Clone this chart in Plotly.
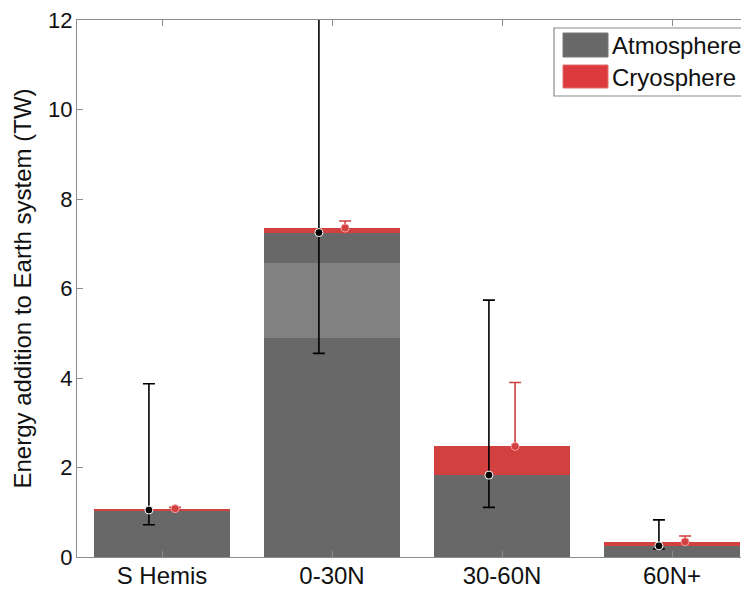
import plotly.graph_objects as go

categories = ["S Hemis", "0-30N", "30-60N", "60N+"]
atmosphere = [1.05, 7.25, 1.83, 0.25]
cryosphere = [0.03, 0.10, 0.64, 0.09]
# lighter band inside the 0-30N atmosphere bar (base, height)
band_base = [None, 4.90, None, None]
band_height = [None, 1.67, None, None]
atm_err_plus = [2.82, 5.20, 3.91, 0.58]
atm_err_minus = [0.33, 2.70, 0.72, 0.07]
cryo_err_plus = [0.03, 0.16, 1.43, 0.13]
cryo_err_minus = [0.03, 0.10, 0.40, 0.06]
yticks = [0, 2, 4, 6, 8, 10, 12]

pos = [i + 1 for i in range(len(categories))]
top = [a + c for a, c in zip(atmosphere, cryosphere)]
off = 0.077

DARK = "#686868"
LIGHT = "#818181"
RED = "#d2403f"
FONT = "Liberation Sans, Arial, sans-serif"

fig = go.Figure()
fig.add_trace(go.Bar(x=pos, y=atmosphere, width=0.8, marker=dict(color=DARK, line=dict(width=0)),
                     name="Atmosphere", showlegend=False))
fig.add_trace(go.Bar(x=pos, y=band_height, base=band_base, width=0.8,
                     marker=dict(color=LIGHT, line=dict(width=0)), showlegend=False))
fig.add_trace(go.Bar(x=pos, y=cryosphere, base=atmosphere, width=0.8,
                     marker=dict(color=RED, line=dict(width=0)), name="Cryosphere", showlegend=False))
fig.add_trace(go.Scatter(x=[p - off for p in pos], y=atmosphere, mode="markers",
                         marker=dict(color="black", size=8, line=dict(color="white", width=1)),
                         error_y=dict(type="data", symmetric=False, array=atm_err_plus,
                                      arrayminus=atm_err_minus, color="black", thickness=1.6, width=6),
                         showlegend=False))
fig.add_trace(go.Scatter(x=[p + off for p in pos], y=top, mode="markers",
                         marker=dict(color=RED, size=8, line=dict(color="#f4a0a0", width=1)),
                         error_y=dict(type="data", symmetric=False, array=cryo_err_plus,
                                      arrayminus=cryo_err_minus, color=RED, thickness=1.6, width=6),
                         showlegend=False))

# custom legend (large swatches); helper maps page pixels to paper coords
def px_x(v):
    return (v - 77) / 672.0

def px_y(v):
    return (557 - v) / 537.0

shapes = [
    dict(type="rect", xref="paper", yref="paper", x0=px_x(554), x1=px_x(770), y0=px_y(96), y1=px_y(28),
         line=dict(color="#8a8a8a", width=1.2), fillcolor="white", layer="above"),
    dict(type="rect", xref="paper", yref="paper", x0=px_x(563), x1=px_x(608), y0=px_y(57), y1=px_y(33),
         line=dict(color="#777", width=1), fillcolor=DARK, layer="above"),
    dict(type="rect", xref="paper", yref="paper", x0=px_x(563), x1=px_x(608), y0=px_y(88), y1=px_y(65),
         line=dict(color="#e07070", width=1), fillcolor="#dc3a3c", layer="above"),
]
annotations = [
    dict(text="Atmosphere", xref="paper", yref="paper", x=px_x(610), y=px_y(45), xanchor="left",
         yanchor="middle", showarrow=False, font=dict(size=24, color="#111", family=FONT)),
    dict(text="Cryosphere", xref="paper", yref="paper", x=px_x(610), y=px_y(77), xanchor="left",
         yanchor="middle", showarrow=False, font=dict(size=24, color="#111", family=FONT)),
]

# the page body has an 8px margin, so the figure is made 8px smaller and margins reduced
fig.update_layout(
    width=741, height=581,
    margin=dict(l=69, r=0, t=12, b=32),
    plot_bgcolor="white", paper_bgcolor="white",
    barmode="overlay", bargap=0,
    font=dict(family=FONT, size=22, color="#111"),
    shapes=shapes, annotations=annotations,
    showlegend=False,
)
fig.update_xaxes(range=[0.5, 0.5 + 672 / 170.0], tickvals=pos, ticktext=categories,
                 showline=True, linecolor="#8c8c8c", linewidth=1.2, mirror="ticks",
                 ticks="inside", ticklen=6, tickcolor="#8c8c8c", showgrid=False, zeroline=False,
                 tickfont=dict(size=24), automargin=False, ticklabelstandoff=-3,
                 ticklabeloverflow="allow")
fig.update_yaxes(range=[0, 12], tickvals=yticks, showline=True, linecolor="#8c8c8c", linewidth=1.2,
                 mirror=False, ticks="inside", ticklen=6, tickcolor="#8c8c8c", showgrid=False,
                 zeroline=False, tickfont=dict(size=22), automargin=False, ticklabelstandoff=-1,
                 ticklabeloverflow="allow",
                 title=dict(text="Energy addition to Earth system (TW)", font=dict(size=24), standoff=9))

fig.write_html("out.html")
